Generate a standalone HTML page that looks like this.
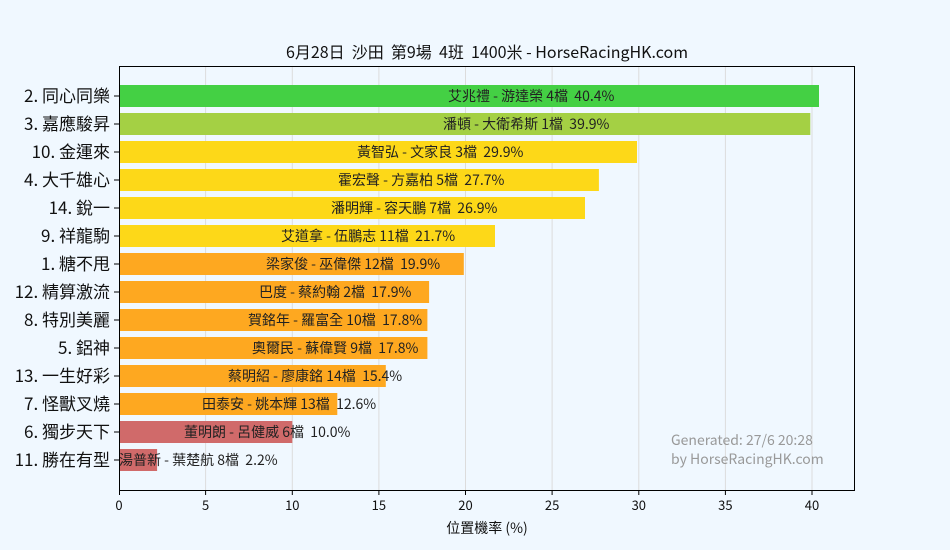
<!DOCTYPE html><html><head><meta charset="utf-8"><style>body{margin:0;background:#f0f8ff}svg{display:block}text{font-family:"Noto Sans CJK TC","Liberation Sans",sans-serif;white-space:pre}</style></head><body>
<svg width="950" height="550" xmlns="http://www.w3.org/2000/svg" xml:space="preserve">
<rect width="950" height="550" fill="#f0f8ff"/>
<g stroke="#dcdcdc" stroke-width="1">
<line x1="205.6" y1="66" x2="205.6" y2="490"/><line x1="292.3" y1="66" x2="292.3" y2="490"/><line x1="378.9" y1="66" x2="378.9" y2="490"/><line x1="465.5" y1="66" x2="465.5" y2="490"/><line x1="552.1" y1="66" x2="552.1" y2="490"/><line x1="638.8" y1="66" x2="638.8" y2="490"/><line x1="725.4" y1="66" x2="725.4" y2="490"/><line x1="812" y1="66" x2="812" y2="490"/>
</g>
<g>
<rect x="119" y="85" width="700" height="22" fill="#44d044"/>
<rect x="119" y="113" width="691.3" height="22" fill="#a4d044"/>
<rect x="119" y="141" width="518" height="22" fill="#fdd818"/>
<rect x="119" y="169" width="479.9" height="22" fill="#fdd818"/>
<rect x="119" y="197" width="466" height="22" fill="#fdd818"/>
<rect x="119" y="225" width="376" height="22" fill="#fdd818"/>
<rect x="119" y="253" width="344.8" height="22" fill="#fea820"/>
<rect x="119" y="281" width="310.1" height="22" fill="#fea820"/>
<rect x="119" y="309" width="308.4" height="22" fill="#fea820"/>
<rect x="119" y="337" width="308.4" height="22" fill="#fea820"/>
<rect x="119" y="365" width="266.8" height="22" fill="#fea820"/>
<rect x="119" y="393" width="218.3" height="22" fill="#fea820"/>
<rect x="119" y="421" width="173.3" height="22" fill="#d06a6a"/>
<rect x="119" y="449" width="38.1" height="22" fill="#d06a6a"/>
</g>
<g font-size="14" fill="#222">
<text x="448" y="101">艾兆禮 - 游達榮 4檔  40.4%</text>
<text x="443" y="129">潘頓 - 大衛希斯 1檔  39.9%</text>
<text x="357" y="157">黃智弘 - 文家良 3檔  29.9%</text>
<text x="338" y="185">霍宏聲 - 方嘉柏 5檔  27.7%</text>
<text x="331" y="213">潘明輝 - 容天鵬 7檔  26.9%</text>
<text x="281" y="241">艾道拿 - 伍鵬志 11檔  21.7%</text>
<text x="266" y="269">梁家俊 - 巫偉傑 12檔  19.9%</text>
<text x="259" y="297">巴度 - 蔡約翰 2檔  17.9%</text>
<text x="248" y="325">賀銘年 - 羅富全 10檔  17.8%</text>
<text x="252" y="353">奧爾民 - 蘇偉賢 9檔  17.8%</text>
<text x="228" y="381">蔡明紹 - 廖康銘 14檔  15.4%</text>
<text x="202" y="409">田泰安 - 姚本輝 13檔  12.6%</text>
<text x="184" y="437">董明朗 - 呂健威 6檔  10.0%</text>
<text x="119" y="465">湯普新 - 葉楚航 8檔  2.2%</text>
</g>
<rect x="119.5" y="66.5" width="735" height="424" fill="none" stroke="#000" stroke-width="1"/>
<g stroke="#000"><line x1="114" y1="96" x2="119" y2="96"/><line x1="114" y1="124" x2="119" y2="124"/><line x1="114" y1="152" x2="119" y2="152"/><line x1="114" y1="180" x2="119" y2="180"/><line x1="114" y1="208" x2="119" y2="208"/><line x1="114" y1="236" x2="119" y2="236"/><line x1="114" y1="264" x2="119" y2="264"/><line x1="114" y1="292" x2="119" y2="292"/><line x1="114" y1="320" x2="119" y2="320"/><line x1="114" y1="348" x2="119" y2="348"/><line x1="114" y1="376" x2="119" y2="376"/><line x1="114" y1="404" x2="119" y2="404"/><line x1="114" y1="432" x2="119" y2="432"/><line x1="114" y1="460" x2="119" y2="460"/>
<line x1="119.5" y1="490" x2="119.5" y2="495"/><line x1="205.6" y1="490" x2="205.6" y2="495"/><line x1="292.3" y1="490" x2="292.3" y2="495"/><line x1="378.9" y1="490" x2="378.9" y2="495"/><line x1="465.5" y1="490" x2="465.5" y2="495"/><line x1="552.1" y1="490" x2="552.1" y2="495"/><line x1="638.8" y1="490" x2="638.8" y2="495"/><line x1="725.4" y1="490" x2="725.4" y2="495"/><line x1="812" y1="490" x2="812" y2="495"/></g>
<g font-size="17" fill="#111" text-anchor="end">
<text x="110" y="102">2. 同心同樂</text><text x="110" y="130">3. 嘉應駿昇</text><text x="110" y="158">10. 金運來</text><text x="110" y="186">4. 大千雄心</text><text x="110" y="214">14. 銳一</text><text x="110" y="242">9. 祥龍駒</text><text x="110" y="270">1. 糖不甩</text><text x="110" y="298">12. 精算激流</text><text x="110" y="326">8. 特別美麗</text><text x="110" y="354">5. 鋁神</text><text x="110" y="382">13. 一生好彩</text><text x="110" y="410">7. 怪獸叉燒</text><text x="110" y="438">6. 獨步天下</text><text x="110" y="466">11. 勝在有型</text>
</g>
<g font-size="13" fill="#111" text-anchor="middle">
<text x="119" y="510">0</text><text x="205.6" y="510">5</text><text x="292.3" y="510">10</text><text x="378.9" y="510">15</text><text x="465.5" y="510">20</text><text x="552.1" y="510">25</text><text x="638.8" y="510">30</text><text x="725.4" y="510">35</text><text x="812" y="510">40</text>
<text x="487" y="533" font-size="14">位置機率 (%)</text>
<text x="487" y="58" font-size="16">6月28日  沙田  第9場  4班  1400米 - HorseRacingHK.com</text>
</g>
<g font-size="14" fill="#999"><text x="671" y="445">Generated: 27/6 20:28</text><text x="671" y="464">by HorseRacingHK.com</text></g>
</svg></body></html>
